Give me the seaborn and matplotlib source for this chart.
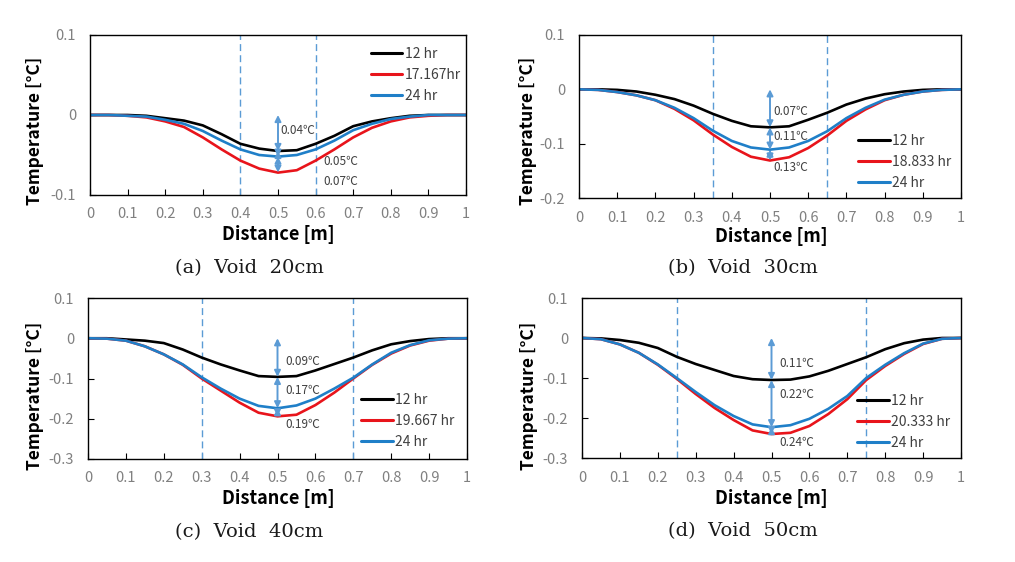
import matplotlib
matplotlib.use("Agg")
import matplotlib.pyplot as plt
import seaborn as sns
import pandas as pd

sns.set_theme(style="white")
plt.rcParams['font.family'] = ['Noto Sans CJK KR', 'DejaVu Sans']

# ---------------- data ----------------
distance = [0, 0.05, 0.1, 0.15, 0.2, 0.25, 0.3, 0.35, 0.4, 0.45, 0.5,
            0.55, 0.6, 0.65, 0.7, 0.75, 0.8, 0.85, 0.9, 0.95, 1.0]

a_12 = [0, 0, 0, -0.001, -0.004, -0.007, -0.013, -0.024, -0.036, -0.042, -0.045,
        -0.044, -0.036, -0.026, -0.014, -0.008, -0.004, -0.001, 0, 0, 0]
a_mid = [0, 0, -0.001, -0.003, -0.008, -0.015, -0.028, -0.043, -0.057, -0.067, -0.072,
         -0.069, -0.057, -0.043, -0.028, -0.016, -0.008, -0.003, -0.001, 0, 0]
a_24 = [0, 0, -0.001, -0.002, -0.006, -0.011, -0.020, -0.032, -0.043, -0.050, -0.052,
        -0.050, -0.043, -0.032, -0.019, -0.011, -0.005, -0.002, 0, 0, 0]

b_12 = [0, 0, -0.001, -0.004, -0.010, -0.018, -0.030, -0.045, -0.058, -0.068, -0.070,
        -0.068, -0.056, -0.043, -0.028, -0.017, -0.009, -0.004, -0.001, 0, 0]
b_mid = [0, -0.001, -0.005, -0.011, -0.020, -0.036, -0.057, -0.083, -0.106, -0.124, -0.131,
         -0.125, -0.108, -0.085, -0.058, -0.037, -0.020, -0.010, -0.004, -0.001, 0]
b_24 = [0, -0.001, -0.005, -0.011, -0.020, -0.034, -0.053, -0.076, -0.095, -0.107, -0.111,
        -0.107, -0.095, -0.077, -0.053, -0.034, -0.019, -0.010, -0.004, -0.001, 0]

c_12 = [0, 0, -0.003, -0.006, -0.012, -0.028, -0.048, -0.065, -0.080, -0.094, -0.096,
        -0.094, -0.080, -0.064, -0.048, -0.030, -0.015, -0.007, -0.002, 0, 0]
c_mid = [0, -0.001, -0.006, -0.020, -0.040, -0.066, -0.100, -0.130, -0.160, -0.185, -0.194,
         -0.190, -0.166, -0.135, -0.100, -0.066, -0.038, -0.018, -0.006, -0.001, 0]
c_24 = [0, -0.001, -0.006, -0.020, -0.040, -0.065, -0.097, -0.125, -0.150, -0.168, -0.174,
        -0.167, -0.150, -0.125, -0.098, -0.065, -0.036, -0.017, -0.005, -0.001, 0]

d_12 = [0, -0.001, -0.005, -0.012, -0.025, -0.047, -0.065, -0.080, -0.095, -0.103, -0.105,
        -0.104, -0.096, -0.082, -0.065, -0.048, -0.028, -0.013, -0.004, 0, 0]
d_mid = [0, -0.003, -0.016, -0.037, -0.067, -0.102, -0.140, -0.175, -0.205, -0.231, -0.240,
         -0.237, -0.220, -0.190, -0.153, -0.105, -0.070, -0.040, -0.015, -0.002, 0]
d_24 = [0, -0.003, -0.016, -0.037, -0.066, -0.100, -0.135, -0.168, -0.195, -0.216, -0.223,
        -0.218, -0.202, -0.177, -0.145, -0.100, -0.067, -0.038, -0.014, -0.002, 0]

series_names = {
    'a': ['12 hr', '17.167hr', '24 hr'],
    'b': ['12 hr', '18.833 hr', '24 hr'],
    'c': ['12 hr', '19.667 hr', '24 hr'],
    'd': ['12 hr', '20.333 hr', '24 hr'],
}
panel_values = {
    'a': [a_12, a_mid, a_24],
    'b': [b_12, b_mid, b_24],
    'c': [c_12, c_mid, c_24],
    'd': [d_12, d_mid, d_24],
}
void_bounds = {'a': [0.4, 0.6], 'b': [0.35, 0.65], 'c': [0.3, 0.7], 'd': [0.25, 0.75]}
diff_labels = {
    'a': ['0.04℃', '0.05℃', '0.07℃'],
    'b': ['0.07℃', '0.11℃', '0.13℃'],
    'c': ['0.09℃', '0.17℃', '0.19℃'],
    'd': ['0.11℃', '0.22℃', '0.24℃'],
}
captions = {'a': '(a)  Void  20cm', 'b': '(b)  Void  30cm',
            'c': '(c)  Void  40cm', 'd': '(d)  Void  50cm'}
y_ticks = {
    'a': [0.1, 0, -0.1],
    'b': [0.1, 0, -0.1, -0.2],
    'c': [0.1, 0, -0.1, -0.2, -0.3],
    'd': [0.1, 0, -0.1, -0.2, -0.3],
}
y_tick_labels = {
    'a': ['0.1', '0', '-0.1'],
    'b': ['0.1', '0', '-0.1', '-0.2'],
    'c': ['0.1', '0', '-0.1', '-0.2', '-0.3'],
    'd': ['0.1', '0', '-0.1', '-0.2', '-0.3'],
}
x_ticks = [0, 0.1, 0.2, 0.3, 0.4, 0.5, 0.6, 0.7, 0.8, 0.9, 1.0]
x_tick_labels = ['0', '0.1', '0.2', '0.3', '0.4', '0.5', '0.6', '0.7', '0.8', '0.9', '1']

# ---------------- layout (pixels) ----------------
W, H = 1015, 562
boxes = {  # left, right, top, bottom
    'a': (90, 466, 35, 195),
    'b': (579, 961, 35, 198),
    'c': (88, 467, 298, 459),
    'd': (582, 961, 298, 458),
}
legend_pos = {
    'a': ('upper left', (0.735, 0.95)),
    'b': ('center left', (0.72, 0.22)),
    'c': ('center left', (0.71, 0.236)),
    'd': ('center left', (0.715, 0.224)),
}
ylabel_pos = {'a': (35, 131), 'b': (528, 131), 'c': (35, 396), 'd': (529, 396)}
xlabel_pos = {'a': (278, 235), 'b': (771, 236), 'c': (278, 499), 'd': (771, 499)}
caption_pos = {'a': (249, 268), 'b': (743, 268), 'c': (249, 532), 'd': (743, 531)}
text_pos = {
    'a': [(0.505, -0.020), (0.62, -0.058), (0.62, -0.083)],
    'b': [(0.51, -0.040), (0.51, -0.086), (0.51, -0.144)],
    'c': [(0.52, -0.058), (0.52, -0.131), (0.52, -0.215)],
    'd': [(0.52, -0.064), (0.52, -0.140), (0.52, -0.262)],
}

colors = ['#000000', '#e8141b', '#1f7fc8']
arrow_color = '#5b9bd5'
tick_color = '#808080'

fig = plt.figure(figsize=(W / 100, H / 100), dpi=100)
fig.patch.set_facecolor('white')

for key in ['a', 'b', 'c', 'd']:
    l, r, t, b = boxes[key]
    ax = fig.add_axes([l / W, (H - b) / H, (r - l) / W, (b - t) / H])
    names = series_names[key]
    frames = []
    for name, vals in zip(names, panel_values[key]):
        frames.append(pd.DataFrame({'Distance': distance, 'Temperature': vals, 'Series': name}))
    df = pd.concat(frames, ignore_index=True)
    sns.lineplot(data=df, x='Distance', y='Temperature', hue='Series',
                 hue_order=names, palette=colors, linewidth=1.9, ax=ax, legend=True)

    for xv in void_bounds[key]:
        ax.axvline(xv, color=arrow_color, linestyle=(0, (5, 3)), linewidth=1.0, zorder=1)

    mins = [min(v) for v in panel_values[key]]
    levels = [0, mins[0], mins[2], mins[1]]
    for i in range(3):
        ax.annotate('', xy=(0.5, levels[i + 1]), xytext=(0.5, levels[i]),
                    arrowprops=dict(arrowstyle='<|-|>', color=arrow_color, lw=1.4,
                                    mutation_scale=9, shrinkA=0, shrinkB=0), zorder=5)
    for (tx, ty), s in zip(text_pos[key], diff_labels[key]):
        ax.text(tx, ty, s, fontsize=8.5, color='#404040', va='center', ha='left',
                family=['Noto Sans CJK KR', 'DejaVu Sans'])

    yt = y_ticks[key]
    ax.set_xlim(0, 1)
    ax.set_ylim(min(yt), max(yt))
    ax.set_xticks(x_ticks)
    ax.set_xticklabels(x_tick_labels)
    ax.set_yticks(yt)
    ax.set_yticklabels(y_tick_labels[key])
    ax.tick_params(axis='both', direction='in', length=4, width=0.8, colors='black',
                   labelcolor=tick_color, labelsize=10.5)
    ax.tick_params(axis='x', pad=9, bottom=True, top=False)
    ax.tick_params(axis='y', pad=10, left=True, right=False)
    ax.set_xlabel('')
    ax.set_ylabel('')
    for sp in ax.spines.values():
        sp.set_visible(True)
        sp.set_color('black')
        sp.set_linewidth(1.0)

    loc, anchor = legend_pos[key]
    leg = ax.legend(loc=loc, bbox_to_anchor=anchor, frameon=False, fontsize=10,
                    handlelength=2.3, handletextpad=0.15, labelspacing=0.5,
                    borderpad=0.3, borderaxespad=0)
    for txt in leg.get_texts():
        txt.set_color('#404040')
    for ln in leg.get_lines():
        ln.set_linewidth(2.2)

    yx, yy = ylabel_pos[key]
    fig.text(yx / W, (H - yy) / H, 'Temperature [°C]', rotation=90, ha='center', va='center',
             fontsize=12.5, fontweight='bold', color='black')
    xx, xy = xlabel_pos[key]
    fig.text(xx / W, (H - xy) / H, 'Distance [m]', ha='center', va='center',
             fontsize=13, fontweight='bold', color='black')
    cx, cy = caption_pos[key]
    fig.text(cx / W, (H - cy) / H, captions[key], ha='center', va='center',
             fontsize=14, color='#1a1a1a', family=['DejaVu Serif'])

fig.savefig('out.png', dpi=100, facecolor='white')
